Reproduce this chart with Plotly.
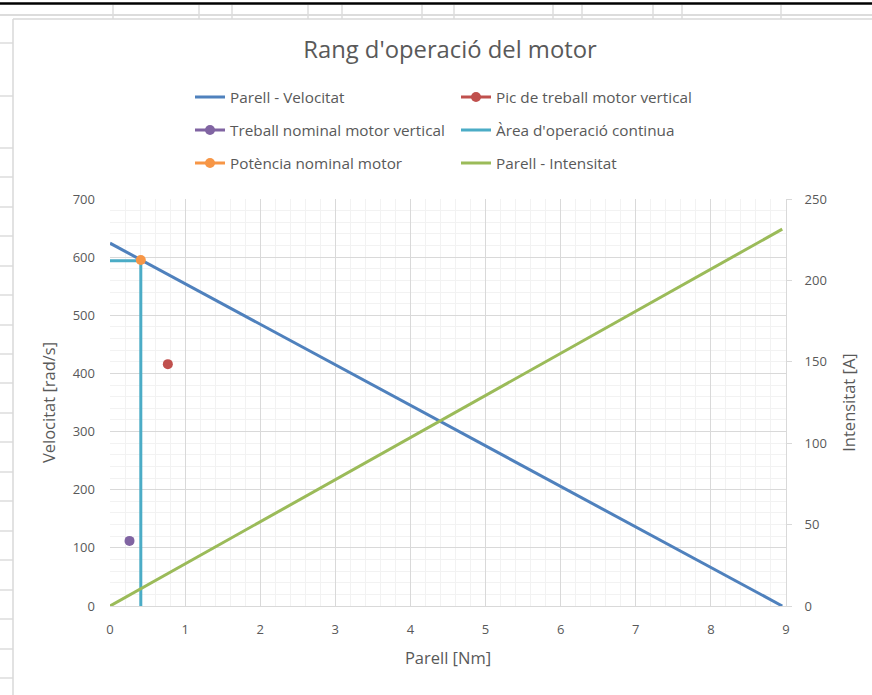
import plotly.graph_objects as go

# ---------------- data ----------------
vel_torque = [0, 8.95]
vel_speed = [624, 0]

int_torque = [0, 8.95]
int_current = [0, 231.5]

area_torque = [0, 0.41, 0.41]
area_speed = [594, 594, 0]

pic_torque = [0.77]
pic_speed = [416]

nominal_torque = [0.26]
nominal_speed = [112]

power_torque = [0.41]
power_speed = [595]

x_ticks = list(range(0, 10))
y_ticks = list(range(0, 701, 100))
y2_ticks = list(range(0, 251, 50))

# ---------------- style ----------------
W, H = 872, 695
L, R, T, B = 110, 786, 199, 606
FONT = "Open Sans"
TXT = "#595959"
GRID = "#d9d9d9"
MINOR = "#f2f2f2"

BLUE = "#4F81BD"
RED = "#C0504D"
PURPLE = "#8064A2"
AQUA = "#4BACC6"
ORANGE = "#F79646"
GREEN = "#9BBB59"


def px(x):
    return (x - L) / (R - L)


def py(y):
    return (B - y) / (B - T)


fig = go.Figure()

fig.add_trace(go.Scatter(x=vel_torque, y=vel_speed, mode="lines", name="Parell - Velocitat",
                         line=dict(color=BLUE, width=3), legend="legend", showlegend=True))
fig.add_trace(go.Scatter(x=pic_torque, y=pic_speed, mode="lines+markers", name="Pic de treball motor vertical",
                         line=dict(color=RED, width=3), marker=dict(color=RED, size=10), legend="legend2"))
fig.add_trace(go.Scatter(x=nominal_torque, y=nominal_speed, mode="lines+markers", name="Treball nominal motor vertical",
                         line=dict(color=PURPLE, width=3), marker=dict(color=PURPLE, size=10), legend="legend3"))
fig.add_trace(go.Scatter(x=area_torque, y=area_speed, mode="lines", name="Àrea d'operació continua",
                         line=dict(color=AQUA, width=3), legend="legend4"))
fig.add_trace(go.Scatter(x=power_torque, y=power_speed, mode="lines+markers", name="Potència nominal motor",
                         line=dict(color=ORANGE, width=3), marker=dict(color=ORANGE, size=10), legend="legend5"))
fig.add_trace(go.Scatter(x=int_torque, y=int_current, mode="lines", name="Parell - Intensitat",
                         line=dict(color=GREEN, width=3), yaxis="y2", legend="legend6"))

# legends: two columns, three rows
col_x = [px(190), px(456)]
row_y = [py(97), py(130), py(163)]
leg_common = dict(font=dict(family=FONT, size=15.3, color=TXT), bgcolor="rgba(0,0,0,0)",
                  xanchor="left", yanchor="middle", itemwidth=30, visible=True)
legends = {}
pos = [(0, 0), (1, 0), (0, 1), (1, 1), (0, 2), (1, 2)]
names = ["legend", "legend2", "legend3", "legend4", "legend5", "legend6"]
for nm, (c, r) in zip(names, pos):
    legends[nm] = dict(leg_common, x=col_x[c], y=row_y[r])

# spreadsheet background decoration
shapes = []
shapes.append(dict(type="line", xref="paper", yref="paper", x0=px(0), x1=px(W), y0=py(3.5), y1=py(3.5),
                   line=dict(color="black", width=2.5)))
shapes.append(dict(type="line", xref="paper", yref="paper", x0=px(0), x1=px(W), y0=py(15), y1=py(15),
                   line=dict(color="#dcdcdc", width=2)))
for vx in [113, 199, 232, 308, 342, 422, 454, 553, 582, 653, 682, 781]:
    shapes.append(dict(type="line", xref="paper", yref="paper", x0=px(vx), x1=px(vx), y0=py(5), y1=py(19),
                       line=dict(color="#dcdcdc", width=1.5)))
for hy in [43, 96, 148, 177, 207, 236, 266, 295, 325, 354, 383, 413, 442, 472, 501, 531, 560, 590, 619, 649, 678]:
    shapes.append(dict(type="line", xref="paper", yref="paper", x0=px(0), x1=px(13), y0=py(hy), y1=py(hy),
                       line=dict(color="#dcdcdc", width=1.5)))
shapes.append(dict(type="line", xref="paper", yref="paper", x0=px(13), x1=px(13), y0=py(19), y1=py(695),
                   line=dict(color="#d9d9d9", width=1.5)))
shapes.append(dict(type="line", xref="paper", yref="paper", x0=px(13), x1=px(W), y0=py(19), y1=py(19),
                   line=dict(color="#d9d9d9", width=1.5)))

fig.update_layout(
    width=W, height=H, autosize=False, showlegend=True,
    margin=dict(l=L, r=W - R, t=T, b=H - B, pad=0),
    paper_bgcolor="white", plot_bgcolor="white",
    font=dict(family=FONT, color=TXT, size=12),
    title=dict(text="Rang d'operació del motor", x=px(450), xanchor="center", xref="paper",
               y=1 - 50 / H, yanchor="middle", font=dict(family=FONT, size=23.8, color=TXT)),
    xaxis=dict(range=[0, 9], tickvals=x_ticks, showgrid=True, gridcolor=GRID, gridwidth=1,
               zeroline=False, showline=True, linecolor=GRID, linewidth=1, ticks="",
               ticklabelstandoff=11, tickfont=dict(size=13, color=TXT),
               minor=dict(dtick=0.2, showgrid=True, gridcolor=MINOR, gridwidth=1),
               title=dict(text="Parell [Nm]", font=dict(size=16.5, color=TXT), standoff=15)),
    yaxis=dict(range=[0, 700], tickvals=y_ticks, showgrid=True, gridcolor=GRID, gridwidth=1,
               zeroline=False, showline=False, ticks="", ticklabelstandoff=14,
               tickfont=dict(size=13, color=TXT),
               minor=dict(dtick=20, showgrid=True, gridcolor=MINOR, gridwidth=1),
               title=dict(text="Velocitat [rad/s]", font=dict(size=16.5, color=TXT), standoff=12)),
    yaxis2=dict(range=[0, 250], tickvals=y2_ticks, overlaying="y", side="right", showgrid=False,
                zeroline=False, showline=True, linecolor=GRID, linewidth=1,
                ticks="outside", ticklen=5, tickcolor=GRID, ticklabelstandoff=10,
                tickfont=dict(size=13, color=TXT),
                title=dict(text="Intensitat [A]", font=dict(size=16.5, color=TXT), standoff=17)),
    shapes=shapes,
    **legends,
)

fig.write_html("out.html")
